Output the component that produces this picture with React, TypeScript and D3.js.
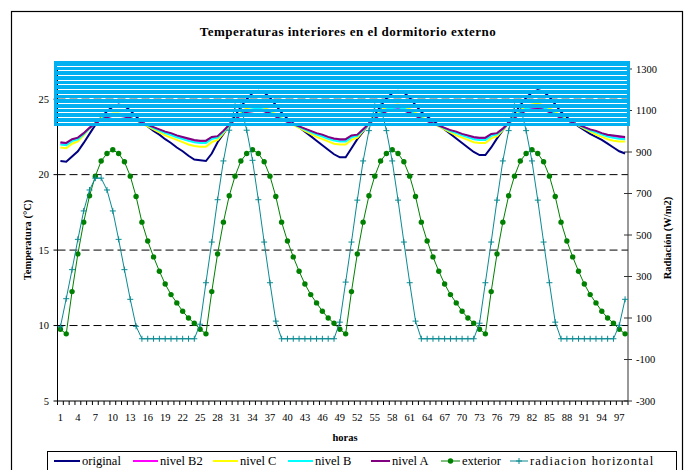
import * as d3 from "d3";
import { useRef, useEffect } from "react";

// hours 1..98 (category axis)
const hours = d3.range(1, 99);
const xTickLabels = [1, 4, 7, 10, 13, 16, 19, 22, 25, 28, 31, 34, 37, 40, 43, 46, 49, 52, 55, 58, 61, 64, 67, 70, 73, 76, 79, 82, 85, 88, 91, 94, 97];
const leftTicks = [5, 10, 15, 20, 25];
const rightTicks = [-300, -100, 100, 300, 500, 700, 900, 1100, 1300];
const gridValues = [10, 15, 20, 25];

const original = [
  20.9, 20.85, 21.2, 21.55, 22.1, 22.7, 23.3, 23.8, 24.2, 24.5, 24.65, 24.55, 24.25, 23.85, 23.5, 23.2, 22.9, 22.65, 22.35, 22.1, 21.8, 21.55, 21.25, 21.0,
  20.95, 20.9, 21.4, 22.15, 22.7, 23.3, 23.9, 24.5, 25.0, 25.4, 25.55, 25.45, 25.1, 24.6, 24.1, 23.7, 23.4, 23.15, 22.85, 22.55, 22.25, 21.95, 21.65, 21.35,
  21.15, 21.15, 21.75, 22.35, 22.85, 23.4, 23.95, 24.55, 25.05, 25.4, 25.55, 25.45, 25.1, 24.6, 24.15, 23.85, 23.55, 23.3, 23.0, 22.7, 22.4, 22.1, 21.8, 21.5,
  21.3, 21.3, 21.8, 22.4, 22.95, 23.5, 24.05, 24.6, 25.1, 25.45, 25.6, 25.5, 25.15, 24.65, 24.15, 23.8, 23.5, 23.2, 22.95, 22.7, 22.5, 22.3, 22.05, 21.8,
  21.55, 21.4,
];

const nivelB2 = [
  22.08, 22.03, 22.29, 22.4, 22.72, 23.09, 23.41, 23.67, 23.83, 23.93, 23.93, 23.87, 23.76, 23.6, 23.44, 23.28, 23.12, 22.96, 22.81, 22.7, 22.55, 22.44, 22.33, 22.23,
  22.18, 22.18, 22.44, 22.5, 22.87, 23.29, 23.66, 23.98, 24.2, 24.26, 24.31, 24.25, 24.09, 23.88, 23.67, 23.5, 23.34, 23.18, 23.02, 22.86, 22.7, 22.59, 22.44, 22.33,
  22.28, 22.28, 22.54, 22.6, 22.98, 23.35, 23.72, 24.04, 24.26, 24.33, 24.38, 24.31, 24.15, 23.94, 23.73, 23.56, 23.4, 23.24, 23.08, 22.92, 22.8, 22.65, 22.54, 22.43,
  22.38, 22.38, 22.64, 22.7, 23.03, 23.4, 23.77, 24.09, 24.31, 24.38, 24.43, 24.36, 24.2, 23.99, 23.78, 23.61, 23.45, 23.29, 23.13, 22.97, 22.85, 22.7, 22.59, 22.52,
  22.47, 22.43,
];

const nivelC = [
  21.8, 21.75, 22.05, 22.2, 22.6, 23.05, 23.45, 23.75, 23.95, 24.05, 24.05, 23.95, 23.8, 23.6, 23.4, 23.2, 23.0, 22.8, 22.6, 22.45, 22.3, 22.15, 22.0, 21.9,
  21.85, 21.85, 22.15, 22.3, 22.75, 23.25, 23.7, 24.1, 24.4, 24.5, 24.55, 24.45, 24.25, 24.0, 23.75, 23.5, 23.3, 23.1, 22.9, 22.7, 22.5, 22.35, 22.2, 22.05,
  22.0, 22.0, 22.3, 22.45, 22.9, 23.35, 23.8, 24.2, 24.5, 24.6, 24.65, 24.55, 24.35, 24.1, 23.85, 23.6, 23.4, 23.2, 23.0, 22.8, 22.6, 22.45, 22.3, 22.15,
  22.1, 22.1, 22.4, 22.55, 22.95, 23.4, 23.85, 24.25, 24.55, 24.65, 24.7, 24.6, 24.4, 24.15, 23.9, 23.65, 23.45, 23.25, 23.05, 22.85, 22.65, 22.5, 22.35, 22.25,
  22.2, 22.2,
];

const nivelB = [
  22.0, 21.95, 22.22, 22.33, 22.68, 23.07, 23.42, 23.7, 23.87, 23.96, 23.96, 23.9, 23.77, 23.6, 23.43, 23.26, 23.09, 22.92, 22.76, 22.63, 22.48, 22.36, 22.24, 22.14,
  22.1, 22.1, 22.36, 22.45, 22.83, 23.27, 23.67, 24.02, 24.25, 24.33, 24.38, 24.3, 24.13, 23.91, 23.69, 23.5, 23.33, 23.16, 22.99, 22.82, 22.65, 22.53, 22.38, 22.26,
  22.2, 22.2, 22.47, 22.57, 22.96, 23.35, 23.74, 24.09, 24.33, 24.41, 24.46, 24.38, 24.2, 23.98, 23.76, 23.57, 23.4, 23.23, 23.06, 22.89, 22.75, 22.6, 22.47, 22.35,
  22.3, 22.3, 22.57, 22.67, 23.01, 23.4, 23.79, 24.14, 24.38, 24.46, 24.51, 24.43, 24.25, 24.03, 23.81, 23.62, 23.45, 23.28, 23.11, 22.94, 22.8, 22.65, 22.52, 22.44,
  22.38, 22.35,
];

const nivelA = [
  22.15, 22.1, 22.35, 22.45, 22.75, 23.1, 23.4, 23.65, 23.8, 23.9, 23.9, 23.85, 23.75, 23.6, 23.45, 23.3, 23.15, 23.0, 22.85, 22.75, 22.6, 22.5, 22.4, 22.3,
  22.25, 22.25, 22.5, 22.55, 22.9, 23.3, 23.65, 23.95, 24.15, 24.2, 24.25, 24.2, 24.05, 23.85, 23.65, 23.5, 23.35, 23.2, 23.05, 22.9, 22.75, 22.65, 22.5, 22.4,
  22.35, 22.35, 22.6, 22.65, 23.0, 23.35, 23.7, 24.0, 24.2, 24.25, 24.3, 24.25, 24.1, 23.9, 23.7, 23.55, 23.4, 23.25, 23.1, 22.95, 22.85, 22.7, 22.6, 22.5,
  22.45, 22.45, 22.7, 22.75, 23.05, 23.4, 23.75, 24.05, 24.25, 24.3, 24.35, 24.3, 24.15, 23.95, 23.75, 23.6, 23.45, 23.3, 23.15, 23.0, 22.9, 22.75, 22.65, 22.6,
  22.55, 22.5,
];

const exterior = [
  9.75, 9.45, 12.25, 14.75, 16.85, 18.6, 19.9, 20.9, 21.4, 21.65, 21.4, 20.85, 19.9, 18.55, 16.85, 15.6, 14.55, 13.6, 12.75, 12.05, 11.5, 10.95, 10.5, 10.15,
  9.75, 9.45, 12.25, 14.75, 16.85, 18.6, 19.9, 20.9, 21.4, 21.65, 21.4, 20.85, 19.9, 18.55, 16.85, 15.6, 14.55, 13.6, 12.75, 12.05, 11.5, 10.95, 10.5, 10.15,
  9.75, 9.45, 12.25, 14.75, 16.85, 18.6, 19.9, 20.9, 21.4, 21.65, 21.4, 20.85, 19.9, 18.55, 16.85, 15.6, 14.55, 13.6, 12.75, 12.05, 11.5, 10.95, 10.5, 10.15,
  9.75, 9.45, 12.25, 14.75, 16.85, 18.6, 19.9, 20.9, 21.4, 21.65, 21.4, 20.85, 19.9, 18.55, 16.85, 15.6, 14.55, 13.6, 12.75, 12.05, 11.5, 10.95, 10.5, 10.15,
  9.75, 9.45,
];

const radiacion = [
  58, 193, 333, 479, 616, 717, 774, 774, 717, 616, 479, 333, 190, 60, 0, 0, 0, 0, 0, 0, 0, 0, 0, 0,
  70, 270, 466, 670, 857, 1005, 1120, 1120, 1005, 860, 670, 466, 270, 85, 0, 0, 0, 0, 0, 0, 0, 0, 0, 0,
  80, 273, 466, 668, 857, 1003, 1120, 1120, 1003, 857, 668, 466, 270, 85, 0, 0, 0, 0, 0, 0, 0, 0, 0, 0,
  75, 270, 466, 668, 857, 1003, 1120, 1120, 1003, 857, 668, 466, 270, 80, 0, 0, 0, 0, 0, 0, 0, 0, 0, 0,
  65, 190,
];

const interiorSeries = [
  { name: "original", values: original, color: "#000080" },
  { name: "nivel B2", values: nivelB2, color: "#FF00FF" },
  { name: "nivel C", values: nivelC, color: "#FFFF00" },
  { name: "nivel B", values: nivelB, color: "#00FFFF" },
  { name: "nivel A", values: nivelA, color: "#800080" },
];

const greenColor = "#008000";
const tealColor = "#0A8A92";
const serif = "'Liberation Serif', 'Times New Roman', serif";

const App = () => {
  const container = useRef(null);

  useEffect(() => {
    createChart();
  }, []);

  const createChart = () => {
    let node = container.current;
    let width = 687;
    let height = 470;

    let plot = { l: 57.5, r: 628, t: 69, b: 401 };

    let svg = d3
      .select(node)
      .selectAll("svg")
      .data([0])
      .join("svg")
      .attr("width", width)
      .attr("height", height)
      .style("position", "absolute")
      .style("left", 0)
      .style("top", 0)
      .style("background", "#fff");

    svg.selectAll("*").remove();

    let xScale = d3.scaleBand().domain(hours).range([plot.l, plot.r]).padding(0);
    let xc = (h) => xScale(h) + xScale.bandwidth() / 2;
    let yLeft = d3.scaleLinear().domain([5, 27]).range([plot.b, plot.t]);
    let yRight = d3.scaleLinear().domain([-300, 1300]).range([plot.b, plot.t]);

    // outer border
    svg
      .append("rect")
      .attr("x", 11.5)
      .attr("y", 11.5)
      .attr("width", 671)
      .attr("height", 480)
      .attr("fill", "none")
      .attr("stroke", "#000")
      .attr("stroke-width", 1.2);

    // title
    svg
      .append("text")
      .attr("x", 348)
      .attr("y", 36)
      .attr("text-anchor", "middle")
      .style("font-family", serif)
      .style("font-size", "13px")
      .style("font-weight", 700)
      .style("letter-spacing", "0.5px")
      .text("Temperaturas interiores en el dormitorio externo");

    // gridlines
    svg
      .append("g")
      .selectAll("line")
      .data(gridValues)
      .join("line")
      .attr("x1", plot.l)
      .attr("x2", plot.r)
      .attr("y1", (d) => yLeft(d))
      .attr("y2", (d) => yLeft(d))
      .attr("stroke", "#000")
      .attr("stroke-width", 1)
      .attr("stroke-dasharray", "8,4");

    // x axis
    let xaxisg = svg.append("g");
    xaxisg
      .append("line")
      .attr("x1", plot.l)
      .attr("x2", plot.r)
      .attr("y1", plot.b)
      .attr("y2", plot.b)
      .attr("stroke", "#000");
    xaxisg
      .selectAll(".xtick")
      .data(d3.range(hours.length + 1))
      .join("line")
      .attr("class", "xtick")
      .attr("x1", (i) => plot.l + i * xScale.bandwidth())
      .attr("x2", (i) => plot.l + i * xScale.bandwidth())
      .attr("y1", plot.b)
      .attr("y2", plot.b + 4)
      .attr("stroke", "#000");
    xaxisg
      .selectAll(".xlabel")
      .data(xTickLabels)
      .join("text")
      .attr("class", "xlabel")
      .attr("x", (d) => xc(d))
      .attr("y", 421)
      .attr("text-anchor", "middle")
      .style("font-family", serif)
      .style("font-size", "10.5px")
      .text((d) => d);

    // left axis
    let yaxisg = svg.append("g");
    yaxisg
      .append("line")
      .attr("x1", plot.l)
      .attr("x2", plot.l)
      .attr("y1", plot.t)
      .attr("y2", plot.b)
      .attr("stroke", "#000");
    yaxisg
      .selectAll(".ltick")
      .data(leftTicks)
      .join("line")
      .attr("class", "ltick")
      .attr("x1", plot.l - 4)
      .attr("x2", plot.l)
      .attr("y1", (d) => yLeft(d))
      .attr("y2", (d) => yLeft(d))
      .attr("stroke", "#000");
    yaxisg
      .selectAll(".llabel")
      .data(leftTicks)
      .join("text")
      .attr("class", "llabel")
      .attr("x", 49)
      .attr("y", (d) => yLeft(d) + 3.5)
      .attr("text-anchor", "end")
      .style("font-family", serif)
      .style("font-size", "10.5px")
      .text((d) => d);

    // right axis
    let raxisg = svg.append("g");
    raxisg
      .append("line")
      .attr("x1", plot.r)
      .attr("x2", plot.r)
      .attr("y1", plot.t)
      .attr("y2", plot.b)
      .attr("stroke", "#333");
    raxisg
      .selectAll(".rtick")
      .data(rightTicks)
      .join("line")
      .attr("class", "rtick")
      .attr("x1", plot.r - 4)
      .attr("x2", plot.r + 4)
      .attr("y1", (d) => yRight(d))
      .attr("y2", (d) => yRight(d))
      .attr("stroke", "#333");
    raxisg
      .selectAll(".rlabel")
      .data(rightTicks)
      .join("text")
      .attr("class", "rlabel")
      .attr("x", 636)
      .attr("y", (d) => yRight(d) + 3.5)
      .style("font-family", serif)
      .style("font-size", "10.5px")
      .text((d) => d);

    // axis titles
    svg
      .append("text")
      .attr("transform", "translate(31,240)rotate(-90)")
      .attr("text-anchor", "middle")
      .style("font-family", serif)
      .style("font-size", "10.5px")
      .style("font-weight", 700)
      .text("Temperatura (°C)");
    svg
      .append("text")
      .attr("transform", "translate(671,238)rotate(-90)")
      .attr("text-anchor", "middle")
      .style("font-family", serif)
      .style("font-size", "10.5px")
      .style("font-weight", 700)
      .text("Radiación (W/m2)");
    svg
      .append("text")
      .attr("x", 345)
      .attr("y", 441)
      .attr("text-anchor", "middle")
      .style("font-family", serif)
      .style("font-size", "10.5px")
      .style("font-weight", 700)
      .text("horas");

    // interior temperature lines
    let tempLine = d3
      .line()
      .x((d, i) => xc(hours[i]))
      .y((d) => yLeft(d));
    svg
      .append("g")
      .selectAll(".data-line")
      .data(interiorSeries)
      .join("path")
      .attr("class", "data-line")
      .attr("d", (d) => tempLine(d.values))
      .attr("fill", "none")
      .attr("stroke", (d) => d.color)
      .attr("stroke-width", 2);

    // exterior
    let extg = svg.append("g");
    extg
      .append("path")
      .attr("d", tempLine(exterior))
      .attr("fill", "none")
      .attr("stroke", greenColor)
      .attr("stroke-width", 1);
    extg
      .selectAll("circle")
      .data(exterior)
      .join("circle")
      .attr("cx", (d, i) => xc(hours[i]))
      .attr("cy", (d) => yLeft(d))
      .attr("r", 2.7)
      .attr("fill", greenColor);

    // radiacion horizontal
    let radLine = d3
      .line()
      .x((d, i) => xc(hours[i]))
      .y((d) => yRight(d));
    let radg = svg.append("g");
    radg
      .append("path")
      .attr("d", radLine(radiacion))
      .attr("fill", "none")
      .attr("stroke", tealColor)
      .attr("stroke-width", 1);
    radg
      .selectAll(".cross")
      .data(radiacion)
      .join("path")
      .attr("class", "cross")
      .attr("transform", (d, i) => `translate(${xc(hours[i])},${yRight(d)})`)
      .attr("d", "M-3,0H3M0,-3V3")
      .attr("stroke", tealColor)
      .attr("stroke-width", 1);

    // cyan striped block over the top of the plot
    let stripeYs = d3.range(13).map((i) => Math.round(65.7 + i * 4.67));
    let mask = svg.append("defs").append("mask").attr("id", "band-mask");
    mask
      .append("rect")
      .attr("x", 0)
      .attr("y", 0)
      .attr("width", width)
      .attr("height", height)
      .attr("fill", "#fff");
    mask
      .selectAll("rect.stripe")
      .data(stripeYs)
      .join("rect")
      .attr("class", "stripe")
      .attr("x", 57)
      .attr("y", (d) => d)
      .attr("width", 570)
      .attr("height", 1)
      .attr("shape-rendering", "crispEdges")
      .attr("fill", "#000");
    svg
      .append("rect")
      .attr("x", 54)
      .attr("y", 61)
      .attr("width", 576)
      .attr("height", 64.5)
      .attr("fill", "#00B0F0")
      .attr("shape-rendering", "crispEdges")
      .attr("mask", "url(#band-mask)");

    // legend
    let legendg = svg.append("g");
    legendg
      .append("rect")
      .attr("x", 47.5)
      .attr("y", 451.5)
      .attr("width", 629)
      .attr("height", 30)
      .attr("fill", "#fff")
      .attr("stroke", "#000");

    let legendItems = [
      { name: "original", color: "#000080", x: 54, w: 26, type: "line", ls: 0 },
      { name: "nivel B2", color: "#FF00FF", x: 133, w: 25, type: "line", ls: 0 },
      { name: "nivel C", color: "#FFFF00", x: 213, w: 25, type: "line", ls: 0 },
      { name: "nivel B", color: "#00FFFF", x: 288, w: 25, type: "line", ls: 0 },
      { name: "nivel A", color: "#800080", x: 371, w: 19, type: "line", ls: 0 },
      { name: "exterior", color: greenColor, x: 441, w: 19, type: "dot", ls: 0 },
      { name: "radiacion horizontal", color: tealColor, x: 510, w: 18, type: "cross", ls: 1.2 },
    ];
    let ly = 461;
    let items = legendg
      .selectAll(".legend-item")
      .data(legendItems)
      .join("g")
      .attr("class", "legend-item");
    items
      .append("line")
      .attr("x1", (d) => d.x)
      .attr("x2", (d) => d.x + d.w)
      .attr("y1", ly)
      .attr("y2", ly)
      .attr("stroke", (d) => d.color)
      .attr("stroke-width", (d) => (d.type === "line" ? 2 : 1));
    items
      .filter((d) => d.type === "dot")
      .append("circle")
      .attr("cx", (d) => d.x + d.w / 2)
      .attr("cy", ly)
      .attr("r", 2.7)
      .attr("fill", (d) => d.color);
    items
      .filter((d) => d.type === "cross")
      .append("path")
      .attr("transform", (d) => `translate(${d.x + d.w / 2},${ly})`)
      .attr("d", "M-3,0H3M0,-3V3")
      .attr("stroke", (d) => d.color);
    items
      .append("text")
      .attr("x", (d) => d.x + d.w + 2)
      .attr("y", ly + 4)
      .style("font-family", serif)
      .style("font-size", "12.5px")
      .style("letter-spacing", (d) => `${d.ls}px`)
      .text((d) => d.name);
  };

  return <div ref={container}></div>;
};

export default App;
